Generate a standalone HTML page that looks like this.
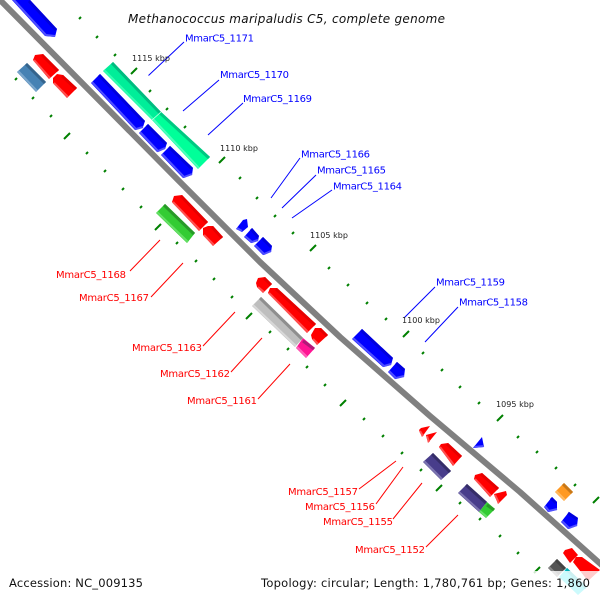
<!DOCTYPE html>
<html><head><meta charset="utf-8"><style>
html,body{margin:0;padding:0;background:#fff;width:600px;height:600px;overflow:hidden}
svg{display:block}
text{font-family:"DejaVu Sans","Liberation Sans",sans-serif}
.b{fill:#0000ff;font-size:10px}
.r{fill:#ff0000;font-size:10px}
.k{fill:#222;font-size:8px}
.f{fill:#111;font-size:11.5px}
</style></head><body>
<svg width="600" height="600" viewBox="0 0 600 600" xmlns="http://www.w3.org/2000/svg">
<polyline points="-5,-5 3,3 90,91 178,180 260,262 340,337 430,416 520,492 605,568" fill="none" stroke="#808080" stroke-width="6" stroke-linejoin="round"/>
<path fill="none" stroke="#008000" stroke-width="2" d="M80 18m-1 1l2-2M97 37m-1 1l2-2M115 55m-1 1l2-2M150 91m-1 1l2-2M167 109m-1 1l2-2M185 127m-1 1l2-2M240 178m-1 1l2-2M257 198m-1 1l2-2M275 216m-1 1l2-2M293 233m-1 1l2-2M329 268m-1 1l2-2M348 285m-1 1l2-2M367 303m-1 1l2-2M386 319m-1 1l2-2M423 353m-1 1l2-2M442 370m-1 1l2-2M460 387m-1 1l2-2M479 403m-1 1l2-2M518 437m-1 1l2-2M537 452m-1 1l2-2M556 468m-1 1l2-2M575 485m-1 1l2-2M16 79m-1 1l2-2M33 98m-1 1l2-2M51 116m-1 1l2-2M87 153m-1 1l2-2M105 171m-1 1l2-2M123 189m-1 1l2-2M141 207m-1 1l2-2M177 243m-1 1l2-2M196 261m-1 1l2-2M214 279m-1 1l2-2M232 297m-1 1l2-2M270 332m-1 1l2-2M288 349m-1 1l2-2M307 367m-1 1l2-2M325 385m-1 1l2-2M364 419m-1 1l2-2M383 436m-1 1l2-2M402 453m-1 1l2-2M421 470m-1 1l2-2M460 503m-1 1l2-2M480 519m-1 1l2-2M500 536m-1 1l2-2M518 553m-1 1l2-2"/>
<path fill="none" stroke="#008000" stroke-width="2" d="M134 71m-3 3l6-6M222 160m-3 3l6-6M313 248m-3 3l6-6M406 334m-3 3l6-6M500 418m-3 3l6-6M596 500m-3 3l6-6M67 136m-3 3l6-6M158 227m-3 3l6-6M249 316m-3 3l6-6M343 403m-3 3l6-6M439 488m-3 3l6-6M537 570m-3 3l6-6"/>

<!-- blue genes -->
<g fill="#0000ff">
<polygon points="12,0 45,36 55,37 57,29 30,0"/>
<polygon points="91,83 100,74 145,121 143,127 135,130"/>
<polygon points="139,133 148,124 167,143 165,149 157,152"/>
<polygon points="161,155 170,146 193,168 192,175 183,178"/>
<polygon points="236,229 243,220 247,219 248,227 242,232"/>
<polygon points="244,237 252,228 259,236 258,241 251,243"/>
<polygon points="254,246 263,237 272,246 271,252 263,255"/>
<polygon points="352,339 362,329 393,358 391,365 383,367"/>
<polygon points="388,372 397,362 405,369 404,377 395,379"/>
<polygon points="473,448 482,437 484,447"/>
<polygon points="544,507 552,497 557,502 557,510 548,512"/>
<polygon points="561,522 569,512 578,518 577,526 568,529"/>
</g>
<g fill="none" stroke="#0000dc" stroke-width="3">
<path d="M29 1L56 30M99 75L144 122M147 125L166 144M169 147L192 169M251 229L258 237M262 238L271 247M361 330L392 359M396 363L404 370M551 498L556 503M568 513L577 519"/>
</g>
<g fill="none" stroke="#5050ff" stroke-width="2">
<path d="M13 -1L46 35L55 36M92 82L136 129L143 127M140 132L158 151L165 148M162 154L184 177L192 174M237 228L242 231M245 236L252 242L258 240M255 245L264 254L271 251M353 338L384 366L391 364M389 371L396 378L404 376M474 447L484 446M545 506L549 511L557 509M562 521L569 528L577 525"/>
</g>

<!-- red genes -->
<g fill="#ff0000">
<polygon points="33,60 35,55 43,54 59,70 49,79"/>
<polygon points="53,78 57,74 63,75 77,88 67,98 53,83"/>
<polygon points="172,202 174,196 182,195 208,222 199,231"/>
<polygon points="203,228 208,226 213,226 223,237 213,246 203,235"/>
<polygon points="256,283 258,278 265,277 272,284 263,293 257,287"/>
<polygon points="268,293 270,288 277,288 316,324 307,333"/>
<polygon points="311,335 315,328 321,328 328,335 317,345 312,339"/>
<polygon points="419,430 421,428 430,426 422,437"/>
<polygon points="426,435 437,432 428,443"/>
<polygon points="439,447 441,444 448,443 462,456 453,466"/>
<polygon points="474,479 475,475 482,473 499,488 490,497"/>
<polygon points="494,494 506,491 507,495 498,504"/>
<polygon points="563,553 565,550 572,548 578,555 570,563"/>
<polygon points="573,562 576,557 582,557 600,570 588,581"/>
</g>
<g fill="none" stroke="#e60000" stroke-width="3">
<path d="M42 55L58 71M62 76L76 89M181 196L207 223M212 227L222 238M264 278L271 285M276 289L315 325M320 329L327 336M447 444L461 457M481 474L498 489"/>
</g>
<g fill="none" stroke="#ff5050" stroke-width="2">
<path d="M34 60L50 78M54 83L68 97M173 202L200 230M204 235L214 245M258 287L264 292M269 293L308 332M313 339L318 344M420 431L423 436M427 436L429 442M440 447L454 465M475 479L491 496M495 495L499 503"/>
</g>

<!-- rectangles -->
<g><polygon points="17,72 27,63 46,82 36,92" fill="#4682b4"/><path d="M26 64L45 83" stroke="#35648c" stroke-width="3"/><path d="M18 71L37 91" stroke="#7aa6cc" stroke-width="2"/></g>
<g><polygon points="103,71 113,62 161,112 152,120" fill="#00ee99"/><path d="M112 63L160 113" stroke="#00bb80" stroke-width="3"/><path d="M104 70L153 119" stroke="#33ffb0" stroke-width="2"/></g>
<g><polygon points="152,120 161,112 210,157 198,169" fill="#00ff99"/><path d="M160 113L209 158" stroke="#00c882" stroke-width="3"/><path d="M153 119L199 168" stroke="#50ffbc" stroke-width="2"/><path d="M152 120L161 112" stroke="#c8ffe8" stroke-width="0.8"/></g>
<g><polygon points="156,213 165,204 195,233 187,243" fill="#33cc33"/><path d="M164 205L194 234" stroke="#289a28" stroke-width="3"/><path d="M157 212L188 242" stroke="#66e066" stroke-width="2"/></g>
<g><polygon points="252,306 261,297 303,338 295,347" fill="#bebebe"/><path d="M260 298L302 339" stroke="#8f8f8f" stroke-width="3"/><path d="M253 305L296 346" stroke="#d8d8d8" stroke-width="2"/></g>
<g><polygon points="296,348 303,338 315,348 306,358" fill="#ff1493"/><path d="M303 341L314 349" stroke="#b01a78" stroke-width="3"/><path d="M297 347L307 357" stroke="#ff60b8" stroke-width="2"/></g>
<g><polygon points="423,462 433,453 451,471 441,480" fill="#483d8b"/><path d="M432 454L450 472" stroke="#352d68" stroke-width="3"/><path d="M424 461L442 479" stroke="#7c74b0" stroke-width="2"/></g>
<g><polygon points="458,493 467,484 487,502 479,512" fill="#483d8b"/><path d="M466 485L486 503" stroke="#352d68" stroke-width="3"/><path d="M459 492L480 511" stroke="#7c74b0" stroke-width="2"/></g>
<g><polygon points="479,512 487,502 495,509 486,518" fill="#33cc33"/><path d="M487 505L494 510" stroke="#289a28" stroke-width="3"/><path d="M480 511L487 517" stroke="#66e066" stroke-width="2"/></g>
<g><polygon points="555,492 564,483 573,492 564,501" fill="#ff9922"/><path d="M563 484L572 493" stroke="#c87818" stroke-width="3"/><path d="M556 491L565 500" stroke="#ffb860" stroke-width="2"/></g>
<g><polygon points="548,568 557,559 566,568 557,577" fill="#555"/><path d="M556 560L565 569" stroke="#444" stroke-width="3"/><path d="M549 567L558 576" stroke="#888" stroke-width="2"/></g>
<g><polygon points="559,577 567,568 587,587 578,595" fill="#00e5ee"/><path d="M566 569L586 588" stroke="#00b0b8" stroke-width="3"/></g>

<!-- connectors -->
<path fill="none" stroke="#0000ff" stroke-width="1" d="M148.500 75.500L184 42M183 111L219 80M208 135L243 103M271 198L300 158M282 208L316 175M292 218L332 190M404 318L435 287M425 342L458 307"/>
<path fill="none" stroke="#ff0000" stroke-width="1" d="M130 271L160 240M151 297L183 263M203 346L235 312M231 372L262 338M258 399L290 364M359 489L396 461M376 504L403 467M393 519L422 483M426 547L458 515"/>

<!-- white band -->
<rect x="0" y="571" width="600" height="29" fill="#fff" fill-opacity="0.8"/>

<!-- labels -->
<text x="128" y="23" textLength="317" lengthAdjust="spacing" style="font-family:'DejaVu Sans',sans-serif;font-style:italic;font-size:12px;fill:#111">Methanococcus maripaludis C5, complete genome</text>
<g class="k">
<text class="k" x="132" y="61" textLength="38">1115 kbp</text>
<text class="k" x="220" y="151" textLength="38">1110 kbp</text>
<text class="k" x="310" y="238" textLength="38">1105 kbp</text>
<text class="k" x="402" y="323" textLength="38">1100 kbp</text>
<text class="k" x="496" y="407" textLength="38">1095 kbp</text>
</g>
<text class="b" x="185" y="41.500" textLength="69">MmarC5_1171</text>
<text class="b" x="220" y="78" textLength="69">MmarC5_1170</text>
<text class="b" x="243" y="102" textLength="69">MmarC5_1169</text>
<text class="b" x="301" y="157.500" textLength="69">MmarC5_1166</text>
<text class="b" x="317" y="173.500" textLength="69">MmarC5_1165</text>
<text class="b" x="333" y="189.500" textLength="69">MmarC5_1164</text>
<text class="b" x="436" y="285.500" textLength="69">MmarC5_1159</text>
<text class="b" x="459" y="305.500" textLength="69">MmarC5_1158</text>
<text class="r" x="56" y="278" textLength="70">MmarC5_1168</text>
<text class="r" x="79" y="301" textLength="70">MmarC5_1167</text>
<text class="r" x="132" y="351" textLength="70">MmarC5_1163</text>
<text class="r" x="160" y="377" textLength="70">MmarC5_1162</text>
<text class="r" x="187" y="404" textLength="70">MmarC5_1161</text>
<text class="r" x="288" y="495" textLength="70">MmarC5_1157</text>
<text class="r" x="305" y="510" textLength="70">MmarC5_1156</text>
<text class="r" x="323" y="525" textLength="70">MmarC5_1155</text>
<text class="r" x="355" y="553" textLength="70">MmarC5_1152</text>
<text class="f" x="9" y="587" textLength="134">Accession: NC_009135</text>
<text class="f" x="261" y="587" textLength="329">Topology: circular; Length: 1,780,761 bp; Genes: 1,860</text>
</svg>
</body></html>
